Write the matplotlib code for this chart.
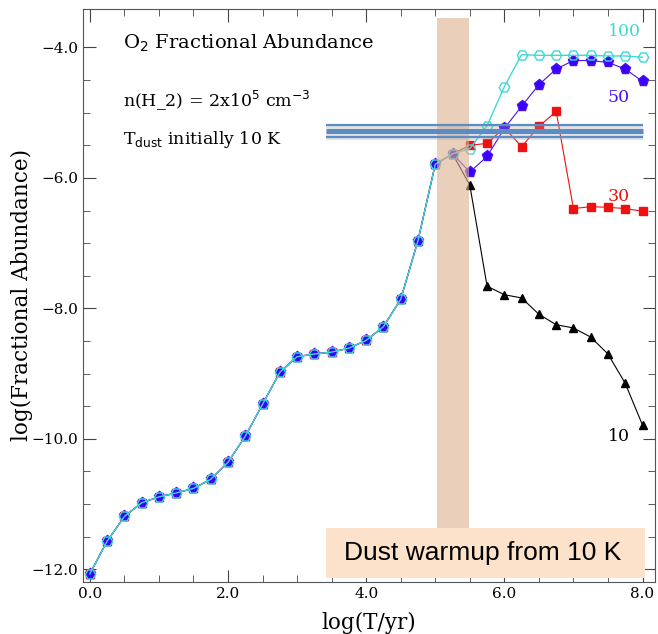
import matplotlib.pyplot as plt
import numpy as np
from matplotlib.patches import Rectangle

# log(T/yr) grid
logt = np.arange(0, 8.01, 0.25)

# shared early-time curve (0.0 .. 5.25)
base = [-12.07, -11.57, -11.19, -10.98, -10.89, -10.83, -10.76, -10.62,
        -10.36, -9.96, -9.47, -8.98, -8.74, -8.70, -8.67, -8.61,
        -8.49, -8.28, -7.86, -6.96, -5.79, -5.63]

# branches after warmup (5.5 .. 8.0), labelled by final dust temperature
t10 = [-6.11, -7.66, -7.79, -7.84, -8.09, -8.25, -8.30, -8.44, -8.70, -9.15, -9.79]
t30 = [-5.50, -5.47, -5.23, -5.52, -5.21, -4.98, -6.47, -6.44, -6.45, -6.47, -6.51]
t50 = [-5.91, -5.67, -5.24, -4.90, -4.57, -4.33, -4.20, -4.20, -4.23, -4.33, -4.52]
t100 = [-5.55, -5.20, -4.60, -4.11, -4.12, -4.12, -4.12, -4.12, -4.13, -4.13, -4.15]

plt.rcParams['font.family'] = 'DejaVu Serif'

fig = plt.figure(figsize=(6.58, 6.34), dpi=100)
ax = fig.add_axes([0.126, 0.0825, 0.8694, 0.9033])

c10, c30, c50, c100 = 'black', '#ee1111', '#4a10f0', '#3fd8d8'

ax.plot(logt, base + t10, color=c10, lw=0.8, marker='^', ms=6, mfc=c10, mec=c10)
ax.plot(logt, base + t30, color=c30, lw=0.8, marker='s', ms=5.5, mfc=c30, mec=c30)
ax.plot(logt, base + t50, color=c50, lw=0.8, marker='p', ms=8, mfc='#3a00ff', mec=c50)
ax.plot(logt, base + t100, color=c100, lw=1.0, marker='H', ms=7.5, mfc='none', mec=c100, mew=1.0)

# curve labels
ax.text(7.74, -3.82, '100', color=c100, fontsize=12.5, ha='center')
ax.text(7.66, -4.84, '50', color=c50, fontsize=12.5, ha='center')
ax.text(7.66, -6.36, '30', color=c30, fontsize=12.5, ha='center')
ax.text(7.66, -10.04, '10', color='black', fontsize=12.5, ha='center')

# annotations
ax.text(0.48, -4.02, r'O$_2$ Fractional Abundance', fontsize=14)
ax.text(0.48, -4.9, r'n(H_2) = 2x10$^5$ cm$^{-3}$', fontsize=12.5)
ax.text(0.48, -5.48, r'T$_{\rm dust}$ initially 10 K', fontsize=12.5)

# warmup band
ax.add_patch(Rectangle((5.02, -11.4), 0.47, 7.85, facecolor='#dcb08c', alpha=0.6,
                       edgecolor='none', zorder=5))

# horizontal blue bars
for yy, lw in [(-5.19, 1.6), (-5.28, 3.6), (-5.37, 1.6)]:
    ax.plot([3.42, 8.0], [yy - 0.025, yy - 0.025], color='#a0a0a0', lw=lw + 1.2, alpha=0.3,
            zorder=6, solid_capstyle='butt')
    ax.plot([3.42, 8.0], [yy, yy], color='#5b8cc6', lw=lw, zorder=7, solid_capstyle='butt')

# label box
ax.add_patch(Rectangle((3.42, -12.14), 4.62, 0.78, facecolor='#fde2cb', edgecolor='none', zorder=8))
ax.text(5.69, -11.75, 'Dust warmup from 10 K', fontsize=19, family='Liberation Sans',
        ha='center', va='center', zorder=9)

ax.set_xlim(-0.1, 8.18)
ax.set_ylim(-12.19, -3.41)
ax.set_xticks([0, 2, 4, 6, 8])
ax.set_xticks(np.arange(0, 8.01, 0.5), minor=True)
ax.set_yticks([-12, -10, -8, -6, -4])
ax.set_yticks(np.arange(-12, -3.9, 0.5), minor=True)
ax.set_xticklabels(['0.0', '2.0', '4.0', '6.0', '8.0'])
ax.set_yticklabels(['\u221212.0', '\u221210.0', '\u22128.0', '\u22126.0', '\u22124.0'])
ax.tick_params(which='both', direction='in', top=True, right=True, labelsize=11, color='#444444')
ax.tick_params(which='major', length=9)
ax.tick_params(which='minor', length=5)
for s in ax.spines.values():
    s.set_color('#555555')

ax.set_xlabel('log(T/yr)', fontsize=15.5, labelpad=8)
ax.set_ylabel('log(Fractional Abundance)', fontsize=15.5)
ax.yaxis.set_label_coords(-0.087, 0.5)

fig.savefig('out.png', dpi=100)
